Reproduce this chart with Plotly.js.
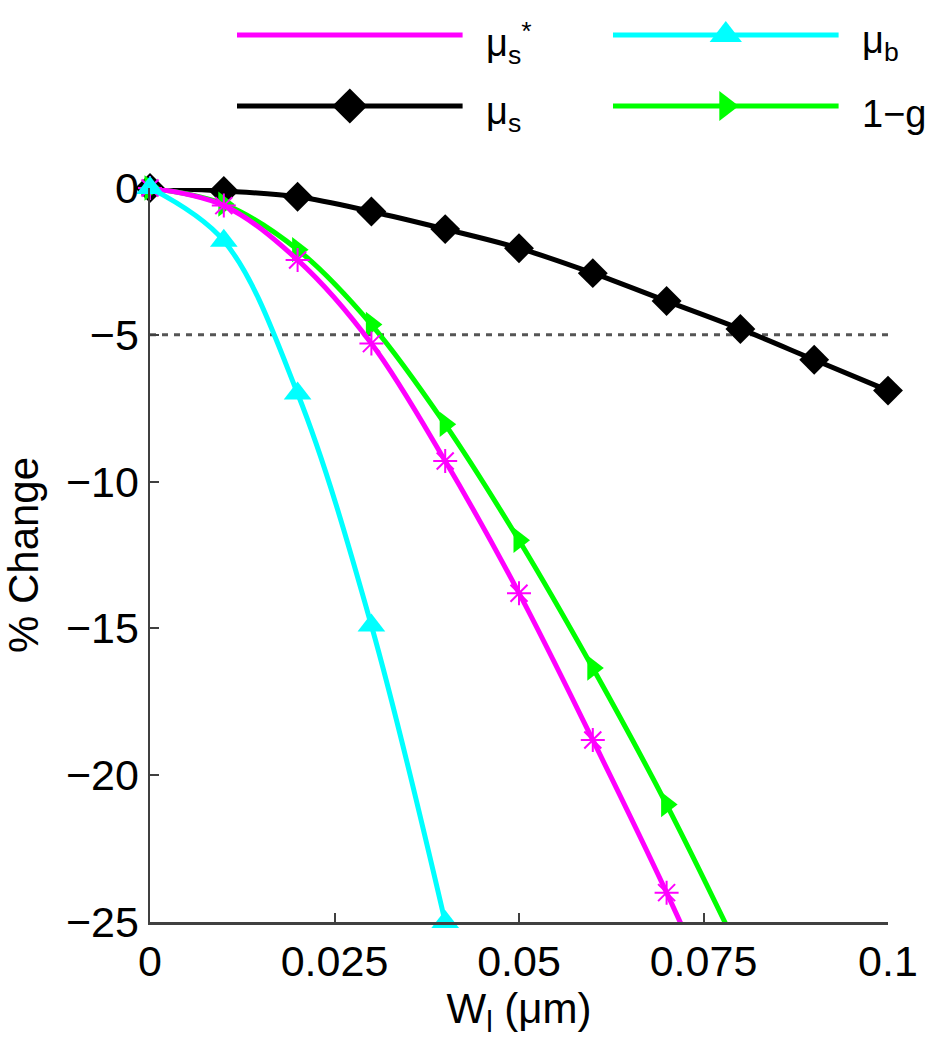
<!DOCTYPE html>
<html>
<head>
<meta charset="utf-8">
<script src="https://cdn.plot.ly/plotly-3.0.1.min.js"></script>
<style>
  html, body { margin: 0; padding: 0; background: #fff; }
  #chart { width: 935px; height: 1050px; }
</style>
</head>
<body>
<div id="chart"></div>
<script>
// layer width (µm) at which each point was computed
const wl = [0, 0.01, 0.02, 0.03, 0.04, 0.05, 0.06, 0.07, 0.08, 0.09, 0.1];

// % change of each optical property
const muS = [0, -0.1, -0.3, -0.8, -1.4, -2.05, -2.9, -3.85, -4.8, -5.85, -6.9];
const muSReduced = [0, -0.6, -2.45, -5.3, -9.3, -13.8, -18.8, -24.0, -29.6];
const muB = [0, -1.8, -7.0, -14.9, -25.0];
const oneMinusG = [0, -0.55, -2.1, -4.65, -8.05, -12.0, -16.35, -21.0, -26.1];

// dotted reference level
const refLevel = -5;

// ticks
const xTickVals = [0, 0.025, 0.05, 0.075, 0.1];
const xTickText = ['0', '0.025', '0.05', '0.075', '0.1'];
const yTickVals = [-25, -20, -15, -10, -5, 0];

const Y_MIN = -25;
const AXIS_COLOR = '#404040';

/**
 * Series, in drawing order (last one on top)
 * legend: col / row inside the 2x2 key block above the plot
 */
const series = [
	{ label: 'μ<sub>s</sub>', y: muS, color: '#000000', symbol: 'diamond', size: 23, col: 0, row: 1, keyMarker: true },
	{ label: '1−g', y: oneMinusG, color: '#00ff00', symbol: 'triangle-right', size: 22, col: 1, row: 1, keyMarker: true },
	{ label: 'μ<sub>s</sub><sup>*</sup>', y: muSReduced, color: '#ff00ff', symbol: 'asterisk-open', size: 20, col: 0, row: 0, keyMarker: false },
	{ label: 'μ<sub>b</sub>', y: muB, color: '#00ffff', symbol: 'triangle-up', size: 24, col: 1, row: 0, keyMarker: true },
];

const data = [];

series.forEach(s => {
	const xs = wl.slice(0, s.y.length);

	// smooth curve, clipped by the plot area
	data.push({
		x: xs,
		y: s.y,
		type: 'scatter',
		mode: 'lines',
		line: { color: s.color, width: 5, shape: 'spline', smoothing: 1 },
		hoverinfo: 'skip',
	});

	// markers only where they are inside the y range, not clipped at the edges
	const keep = s.y.map(( v, i ) => v >= Y_MIN ? i : -1).filter(i => i >= 0);
	data.push({
		x: keep.map(i => xs[i]),
		y: keep.map(i => s.y[i]),
		type: 'scatter',
		mode: 'markers',
		cliponaxis: false,
		marker: {
			symbol: s.symbol,
			size: s.size,
			color: s.color,
			line: { color: s.color, width: s.symbol === 'asterisk-open' ? 2 : 0 },
		},
		hoverinfo: 'skip',
	});

	// key sample: long line with a marker in the middle
	data.push({
		x: [ s.col, s.col + 0.6 ],
		y: [ s.row, s.row ],
		xaxis: 'x2',
		yaxis: 'y2',
		type: 'scatter',
		mode: 'lines',
		line: { color: s.color, width: 5 },
		hoverinfo: 'skip',
	});
	if ( s.keyMarker ){
		data.push({
			x: [ s.col + 0.3 ],
			y: [ s.row ],
			xaxis: 'x2',
			yaxis: 'y2',
			type: 'scatter',
			mode: 'markers',
			cliponaxis: false,
			marker: { symbol: s.symbol, size: s.size + 4, color: s.color },
			hoverinfo: 'skip',
		});
	}
});

const keyLabels = series.map(s => ({
	text: s.label,
	x: s.col + 0.665,
	y: s.row,
	xref: 'x2',
	yref: 'y2',
	xanchor: 'left',
	yanchor: 'middle',
	xshift: -2,
	yshift: -8,
	borderpad: 0,
	showarrow: false,
	font: { size: 38, color: '#000' },
}));

const baseAxis = {
	showline: true,
	linecolor: AXIS_COLOR,
	linewidth: 2.5,
	ticks: 'inside',
	ticklen: 9,
	tickwidth: 2,
	tickcolor: AXIS_COLOR,
	showgrid: false,
	zeroline: false,
	mirror: false,
	automargin: false,
	tickfont: { size: 43, color: '#000' },
};

const layout = {
	width: 935,
	height: 1050,
	margin: { l: 0, r: 0, t: 0, b: 0 },
	paper_bgcolor: '#ffffff',
	plot_bgcolor: '#ffffff',
	showlegend: false,
	font: { family: '"Liberation Sans", Arial, sans-serif', size: 42, color: '#000' },
	xaxis: Object.assign({}, baseAxis, {
		domain: [ 150 / 935, 888 / 935 ],
		range: [ 0, 0.1 ],
		tickvals: xTickVals,
		ticktext: xTickText,
		anchor: 'y',
		title: { text: 'W<sub>l</sub> (μm)', font: { size: 42 }, standoff: 10 },
	}),
	yaxis: Object.assign({}, baseAxis, {
		domain: [ 128 / 1050, 862 / 1050 ],
		range: [ Y_MIN, 0 ],
		tickvals: yTickVals,
		anchor: 'x',
		title: { text: '% Change', font: { size: 42 }, standoff: 22 },
	}),
	// hidden axes that hold the key block above the plot
	xaxis2: {
		domain: [ 237 / 935, 1 ],
		range: [ 0, (935 - 237) / 376 ],
		visible: false,
		anchor: 'y2',
	},
	yaxis2: {
		domain: [ 910 / 1050, 1 ],
		range: [ 1.479, -0.493 ],
		visible: false,
		anchor: 'x2',
	},
	shapes: [ {
		type: 'line',
		xref: 'x',
		yref: 'y',
		x0: 0,
		x1: 0.1,
		y0: refLevel,
		y1: refLevel,
		line: { color: '#555555', width: 3, dash: '6px,6px' },
		layer: 'below',
	} ],
	annotations: keyLabels,
};

Plotly.newPlot('chart', data, layout, { displayModeBar: false, staticPlot: true });
</script>
</body>
</html>
